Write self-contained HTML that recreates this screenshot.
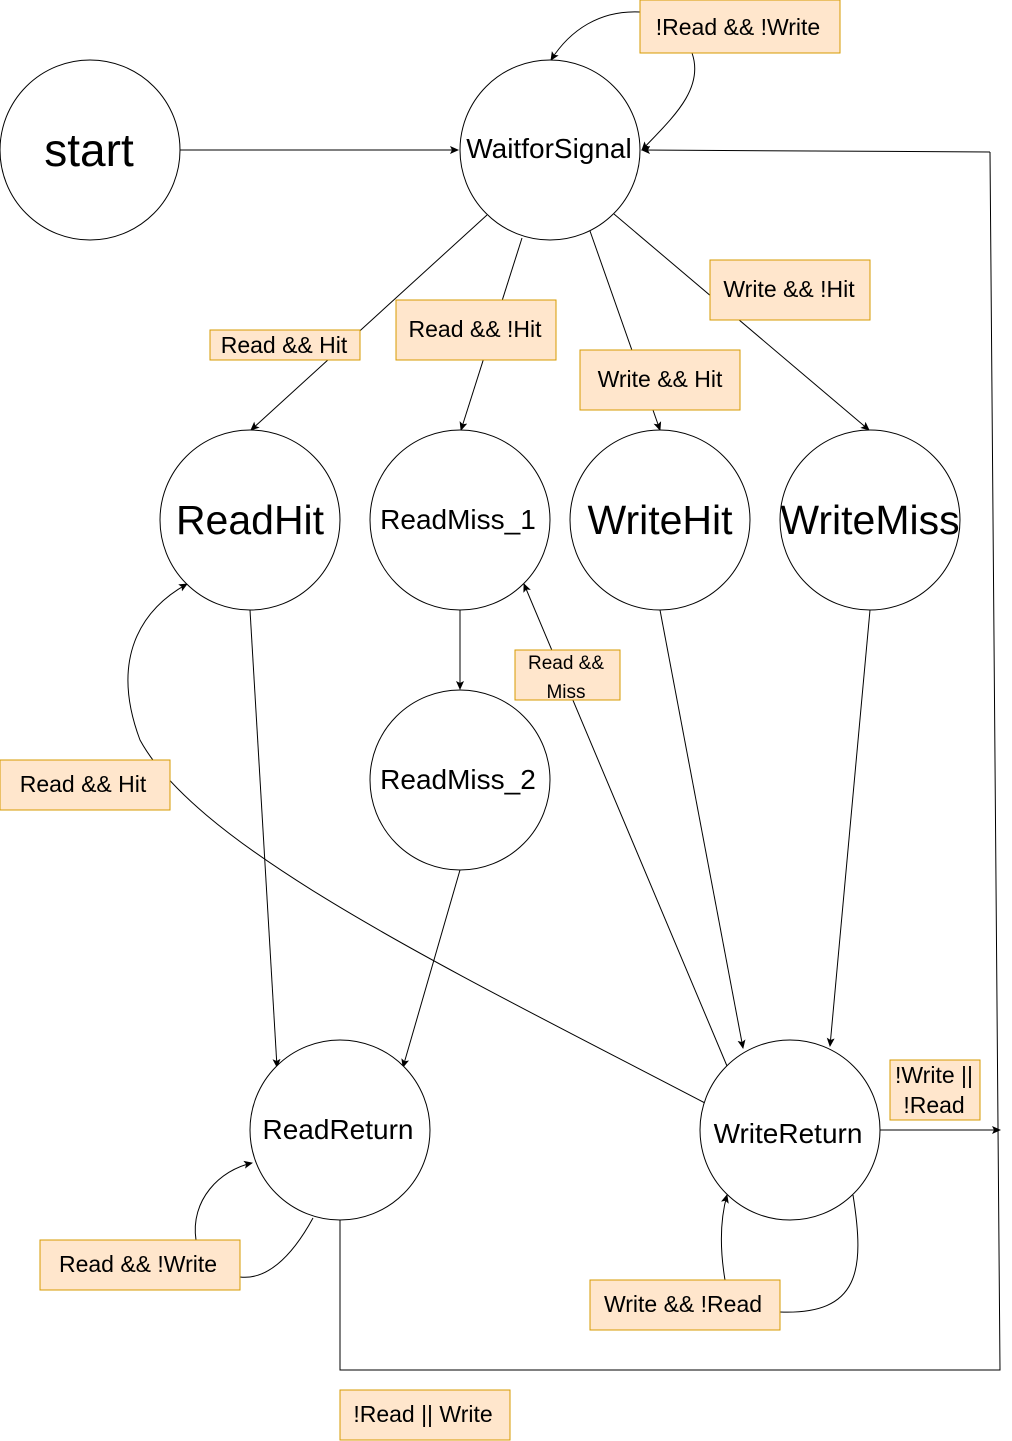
<!DOCTYPE html>
<html><head><meta charset="utf-8"><style>
body{margin:0;background:#fff}
svg{display:block}
text{font-family:"Liberation Sans",sans-serif;fill:#000}
.b{fill:#ffe6cc;stroke:#d79b00;stroke-width:1}
.c{fill:#fff;stroke:#000;stroke-width:1}
.l{fill:none;stroke:#000;stroke-width:1}
</style></head><body>
<svg width="1012" height="1441" viewBox="0 0 1012 1441" xmlns="http://www.w3.org/2000/svg">
<defs><marker id="a" markerWidth="10" markerHeight="10" refX="8" refY="4" orient="auto" markerUnits="userSpaceOnUse"><path d="M0,0 L9,4 L0,8 L2,4 z" fill="#000"/></marker></defs>
<line class="l" x1="180" y1="150" x2="458" y2="150" marker-end="url(#a)"/>
<path class="l" d="M640,12 C600,10 570,30 551,60" marker-end="url(#a)"/>
<path class="l" d="M692,53 C705,90 670,120 642,150" marker-end="url(#a)"/>
<path class="l" d="M340,1220 L340,1370 L1000,1370 L990,152" />
<line class="l" x1="990" y1="152" x2="642" y2="150" marker-end="url(#a)"/>
<line class="l" x1="880" y1="1130" x2="1000" y2="1130" marker-end="url(#a)"/>
<line class="l" x1="487" y1="215" x2="251" y2="430" marker-end="url(#a)"/>
<line class="l" x1="522" y1="238" x2="461" y2="430" marker-end="url(#a)"/>
<line class="l" x1="590" y1="231" x2="660" y2="430" marker-end="url(#a)"/>
<line class="l" x1="614" y1="214" x2="869" y2="430" marker-end="url(#a)"/>
<line class="l" x1="250" y1="610" x2="277" y2="1067" marker-end="url(#a)"/>
<line class="l" x1="460" y1="610" x2="460" y2="689" marker-end="url(#a)"/>
<line class="l" x1="460" y1="870" x2="403" y2="1067" marker-end="url(#a)"/>
<line class="l" x1="660" y1="610" x2="743" y2="1048" marker-end="url(#a)"/>
<line class="l" x1="870" y1="610" x2="830" y2="1046" marker-end="url(#a)"/>
<line class="l" x1="727" y1="1066" x2="524" y2="584" marker-end="url(#a)"/>
<path class="l" d="M705,1103 C450,970 200,850 140,740 C110,660 140,610 187,584" marker-end="url(#a)"/>
<path class="l" d="M313,1218 C290,1260 265,1280 240,1277"/>
<path class="l" d="M196,1240 C190,1200 220,1170 252,1163" marker-end="url(#a)"/>
<path class="l" d="M780,1312 C860,1315 865,1270 853,1195"/>
<path class="l" d="M725,1280 C720,1250 720,1220 727,1195" marker-end="url(#a)"/>
<circle class="c" cx="90" cy="150" r="90"/><text x="89" y="166" font-size="46" text-anchor="middle">start</text>
<circle class="c" cx="550" cy="150" r="90"/><text x="549" y="158" font-size="28" text-anchor="middle">WaitforSignal</text>
<circle class="c" cx="250" cy="520" r="90"/><text x="250" y="534" font-size="41" text-anchor="middle">ReadHit</text>
<circle class="c" cx="460" cy="520" r="90"/><text x="458" y="529" font-size="28" text-anchor="middle">ReadMiss_1</text>
<circle class="c" cx="660" cy="520" r="90"/><text x="660" y="534" font-size="41" text-anchor="middle">WriteHit</text>
<circle class="c" cx="870" cy="520" r="90"/><text x="870" y="534" font-size="41" text-anchor="middle">WriteMiss</text>
<circle class="c" cx="460" cy="780" r="90"/><text x="458" y="789" font-size="28" text-anchor="middle">ReadMiss_2</text>
<circle class="c" cx="340" cy="1130" r="90"/><text x="338" y="1139" font-size="28" text-anchor="middle">ReadReturn</text>
<circle class="c" cx="790" cy="1130" r="90"/><text x="788" y="1143" font-size="28" text-anchor="middle">WriteReturn</text>
<rect class="b" x="640" y="0" width="200" height="53"/><text x="738" y="35" font-size="23" text-anchor="middle">!Read &amp;&amp; !Write</text>
<rect class="b" x="710" y="260" width="160" height="60"/><text x="789" y="297" font-size="23" text-anchor="middle">Write &amp;&amp; !Hit</text>
<rect class="b" x="210" y="330" width="150" height="30"/><text x="284" y="353" font-size="23" text-anchor="middle">Read &amp;&amp; Hit</text>
<rect class="b" x="396" y="300" width="160" height="60"/><text x="475" y="337" font-size="23" text-anchor="middle">Read &amp;&amp; !Hit</text>
<rect class="b" x="580" y="350" width="160" height="60"/><text x="660" y="387" font-size="23" text-anchor="middle">Write &amp;&amp; Hit</text>
<rect class="b" x="515" y="650" width="105" height="50"/><text x="566" y="669" font-size="19" text-anchor="middle">Read &amp;&amp;</text><text x="566" y="698" font-size="19" text-anchor="middle">Miss</text>
<rect class="b" x="0" y="760" width="170" height="50"/><text x="83" y="792" font-size="23" text-anchor="middle">Read &amp;&amp; Hit</text>
<rect class="b" x="890" y="1060" width="90" height="60"/><text x="934" y="1083" font-size="23" text-anchor="middle">!Write ||</text><text x="934" y="1113" font-size="23" text-anchor="middle">!Read</text>
<rect class="b" x="40" y="1240" width="200" height="50"/><text x="138" y="1272" font-size="23" text-anchor="middle">Read &amp;&amp; !Write</text>
<rect class="b" x="590" y="1280" width="190" height="50"/><text x="683" y="1312" font-size="23" text-anchor="middle">Write &amp;&amp; !Read</text>
<rect class="b" x="340" y="1390" width="170" height="50"/><text x="423" y="1422" font-size="23" text-anchor="middle">!Read || Write</text>
</svg>
</body></html>
